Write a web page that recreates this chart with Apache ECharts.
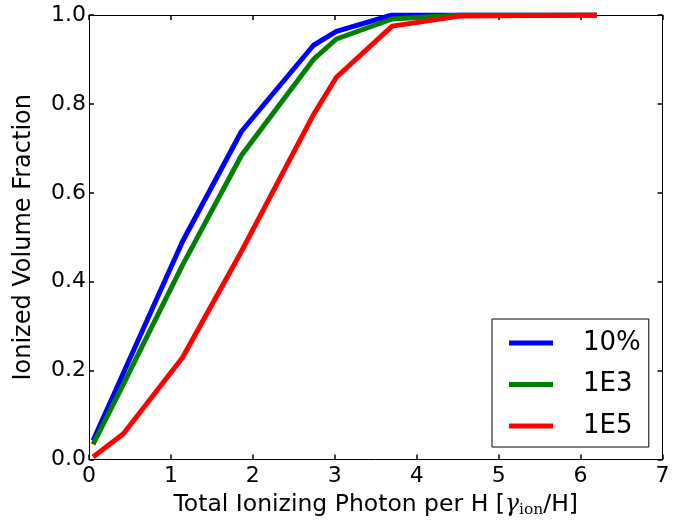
<!DOCTYPE html>
<html><head><meta charset="utf-8">
<script src="https://cdn.jsdelivr.net/npm/echarts@6/dist/echarts.min.js"></script>
<style>html,body{margin:0;padding:0;background:#fff}#c{width:688px;height:523px}</style>
</head><body><div id="c"></div>
<script>
const xValues = [0.05, 0.42, 1.14, 1.86, 2.74, 3.02, 3.70, 4.55, 6.20];
const series10pct = [0.043, 0.195, 0.490, 0.738, 0.932, 0.963, 1.000, 1.000, 1.000];
const series1E3 = [0.034, 0.170, 0.437, 0.684, 0.900, 0.946, 0.991, 1.000, 1.000];
const series1E5 = [0.006, 0.058, 0.229, 0.468, 0.776, 0.860, 0.975, 0.998, 1.000];
const seriesNames = ['10%', '1E3', '1E5'];
const seriesColors = ['#0000ff', '#008000', '#ff0000'];
const xTicks = [0, 1, 2, 3, 4, 5, 6, 7];
const yTicks = ['0.0', '0.2', '0.4', '0.6', '0.8', '1.0'];

const font = 'DejaVu Sans';
const chart = echarts.init(document.getElementById('c'), null, {renderer: 'canvas'});
const allData = [series10pct, series1E3, series1E5];
const axisLine = {show: true, onZero: false, lineStyle: {color: '#000', width: 1}};
const tick = {show: true, inside: true, length: 5, lineStyle: {color: '#000', width: 1.5}};
chart.setOption({
  animation: false,
  grid: {left: 89, right: 25.5, top: 15, bottom: 62, containLabel: false},
  xAxis: [{
    type: 'value', min: xTicks[0], max: xTicks[xTicks.length - 1], interval: 1,
    position: 'bottom', axisLine, axisTick: tick, splitLine: {show: false},
    axisLabel: {color: '#000', fontFamily: font, fontSize: 22, margin: 6},
    name: 'Total Ionizing Photon per H [{g|γ}{s|ion}{n|/H]}',
    nameLocation: 'middle', nameGap: 27,
    nameTextStyle: {
      color: '#000', fontFamily: font, fontSize: 23.5,
      rich: {
        g: {fontFamily: 'DejaVu Serif', fontStyle: 'italic', fontSize: 23.5, color: '#000'},
        s: {fontFamily: 'DejaVu Serif', fontSize: 15.5, color: '#000', padding: [11, 0, 0, 0]},
        n: {fontFamily: font, fontSize: 23.5, color: '#000'}
      }
    }
  }, {
    type: 'value', min: xTicks[0], max: xTicks[xTicks.length - 1], interval: 1,
    position: 'top', axisLine, axisTick: tick, axisLabel: {show: false}, splitLine: {show: false}
  }],
  yAxis: [{
    type: 'value', min: 0, max: 1, interval: 0.2,
    axisLine, axisTick: tick, splitLine: {show: false},
    axisLabel: {color: '#000', fontFamily: font, fontSize: 22, margin: 3,
      formatter: v => yTicks[Math.round(v / 0.2)]},
    name: 'Ionized Volume Fraction', nameLocation: 'middle', nameGap: 53,
    nameTextStyle: {color: '#000', fontFamily: font, fontSize: 24}
  }, {
    type: 'value', min: 0, max: 1, interval: 0.2, position: 'right',
    axisLine, axisTick: tick, axisLabel: {show: false}, splitLine: {show: false}
  }],
  legend: {
    orient: 'vertical', left: 492, top: 319,
    data: seriesNames,
    icon: 'rect', itemWidth: 44, itemHeight: 5, itemGap: 11.5,
    padding: [9, 8, 6, 17],
    borderColor: '#000', borderWidth: 1,
    textStyle: {fontFamily: font, fontSize: 26, color: '#000', lineHeight: 30, padding: [0, 0, 0, 25]}
  },
  series: seriesNames.map((n, i) => ({
    name: n, type: 'line', showSymbol: false, symbol: 'none',
    color: seriesColors[i],
    lineStyle: {width: 5, color: seriesColors[i]},
    data: xValues.map((x, j) => [x, allData[i][j]]),
    z: 2 + i
  }))
});
</script></body></html>
